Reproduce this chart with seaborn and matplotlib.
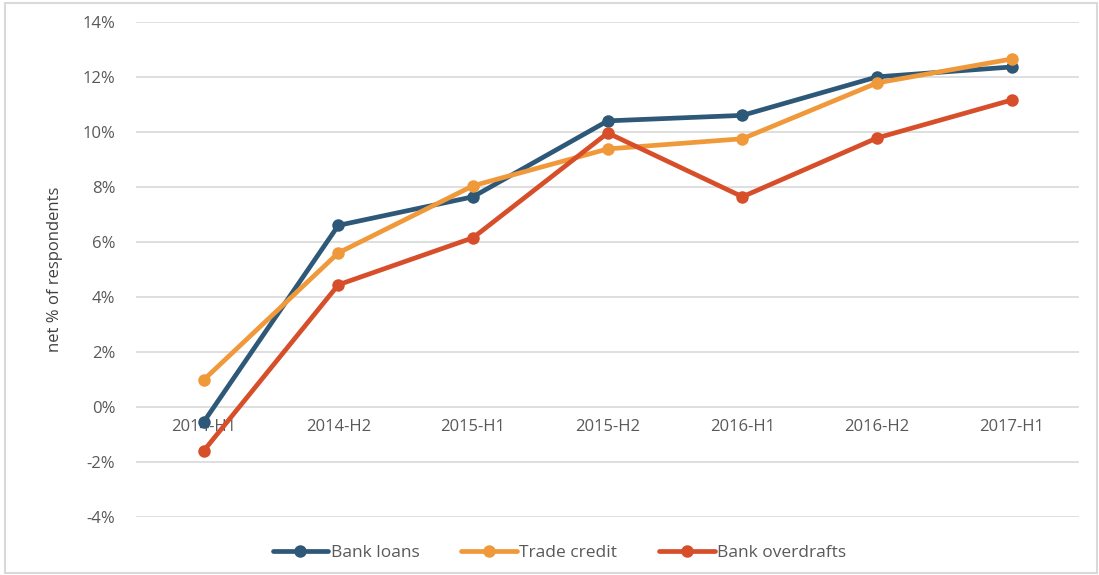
import matplotlib
matplotlib.use("Agg")
import matplotlib.pyplot as plt
import seaborn as sns
import pandas as pd
from matplotlib.ticker import FuncFormatter
from matplotlib.patches import Rectangle

# Data
periods = ['2014-H1', '2014-H2', '2015-H1', '2015-H2', '2016-H1', '2016-H2', '2017-H1']
bank_loans = [-0.55, 6.6, 7.64, 10.4, 10.6, 12.0, 12.36]
trade_credit = [0.98, 5.6, 8.04, 9.38, 9.75, 11.78, 12.65]
bank_overdrafts = [-1.6, 4.44, 6.15, 9.96, 7.64, 9.78, 11.16]

series_names = ['Bank loans', 'Trade credit', 'Bank overdrafts']
colors = ['#2E5878', '#F0993B', '#D74F2A']

rows = []
for name, vals in zip(series_names, [bank_loans, trade_credit, bank_overdrafts]):
    for p, v in zip(periods, vals):
        rows.append({'period': p, 'value': v, 'series': name})
df = pd.DataFrame(rows)

sns.set_style("white")
plt.rcParams['font.family'] = ['Open Sans', 'DejaVu Sans']

fig = plt.figure(figsize=(10.99, 5.75), dpi=100)
ax = fig.add_axes([0.124, 0.101, 0.858, 0.861])

sns.lineplot(data=df, x='period', y='value', hue='series', palette=colors,
             marker='o', markersize=9, markeredgewidth=0, linewidth=3.4,
             sort=False, ax=ax)

ax.set_xlim(-0.5, 6.5)
ax.set_ylim(-4, 14)
ax.set_yticks(range(-4, 15, 2))
ax.yaxis.set_major_formatter(FuncFormatter(lambda v, _: f'{v:.0f}%'))
ax.grid(axis='y', color='#d9d9d9', linewidth=1.2)
ax.set_axisbelow(True)
for s in ax.spines.values():
    s.set_visible(False)
ax.spines['bottom'].set_position(('data', 0))
ax.tick_params(axis='both', length=0, labelsize=12, colors='#595959')
ax.tick_params(axis='y', pad=15)
ax.tick_params(axis='x', pad=9)
ax.set_xlabel('')
ax.set_ylabel('net % of respondents', fontsize=12, color='#404040', labelpad=14)

ax.legend(loc='lower center', bbox_to_anchor=(0.509, -0.003), bbox_transform=fig.transFigure,
          ncol=3, frameon=False, fontsize=12.5, labelcolor='#595959',
          handlelength=3.2, handletextpad=0.15, columnspacing=2.4)

fig.patches.append(Rectangle((0.005, 0.004), 0.993, 0.99, transform=fig.transFigure,
                             fill=False, edgecolor='#d9d9d9', linewidth=1.5))

fig.savefig('out.png', dpi=100)
